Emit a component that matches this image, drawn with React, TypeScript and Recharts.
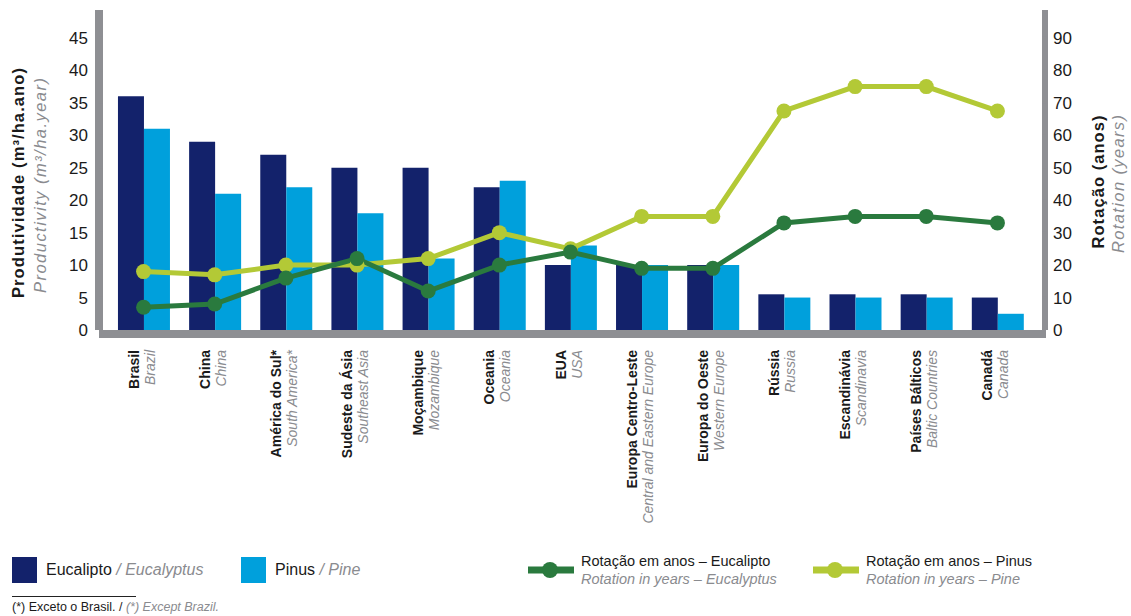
import React from 'react';
import { ComposedChart, Bar, Line, XAxis, YAxis } from 'recharts';

const categories = ['Brasil', 'China', 'América do Sul*', 'Sudeste da Ásia', 'Moçambique', 'Oceania', 'EUA', 'Europa Centro-Leste', 'Europa do Oeste', 'Rússia', 'Escandinávia', 'Países Bálticos', 'Canadá'];
const categoriesEn = ['Brazil', 'China', 'South America*', 'Southeast Asia', 'Mozambique', 'Oceania', 'USA', 'Central and Eastern Europe', 'Western Europe', 'Russia', 'Scandinavia', 'Baltic Countries', 'Canada'];

// produtividade (m³/ha.ano)
const eucaliptoProd = [36, 29, 27, 25, 25, 22, 10, 10, 10, 5.5, 5.5, 5.5, 5];
const pinusProd = [31, 21, 22, 18, 11, 23, 13, 10, 10, 5, 5, 5, 2.5];

// rotação (anos)
const eucaliptoRot = [7, 8, 16, 22, 12, 20, 24, 19, 19, 33, 35, 35, 33];
const pinusRot = [18, 17, 20, 20, 22, 30, 25, 35, 35, 67.5, 75, 75, 67.5];

const leftTicks = [0, 5, 10, 15, 20, 25, 30, 35, 40, 45];
const rightTicks = [0, 10, 20, 30, 40, 50, 60, 70, 80, 90];

const COLORS = {
  eucalipto: '#13226b',
  pinus: '#00a0dc',
  rotEucalipto: '#2a7a3e',
  rotPinus: '#b3c936',
  axis: '#8e8f93',
  text: '#1a1a1a',
  textEn: '#8a8b8f',
};

const data = categories.map((name, i) => ({
  name,
  nameEn: categoriesEn[i],
  eucalipto: eucaliptoProd[i],
  pinus: pinusProd[i],
  rotEucalipto: eucaliptoRot[i],
  rotPinus: pinusRot[i],
}));

const FONT = '"Liberation Sans", Arial, sans-serif';

const CategoryTick = (props: any) => {
  const { x, payload } = props;
  const row = data[payload.index];
  return (
    <g transform={`translate(${x},350)`}>
      <text transform="rotate(-90)" textAnchor="end" fontFamily={FONT} fontSize={14}>
        <tspan x={0} y={-5} fontWeight="bold" fill={COLORS.text}>{row.name}</tspan>
        <tspan x={0} y={11} fontStyle="italic" fill={COLORS.textEn}>{row.nameEn}</tspan>
      </text>
    </g>
  );
};

// titulos dos eixos (PT negrito / EN italico), num svg por cima do grafico
const AxisTitles = () => (
  <svg width={1131} height={616} style={{ position: 'absolute', left: 0, top: 0, pointerEvents: 'none' }}>
    <text transform="translate(24,183) rotate(-90)" textAnchor="middle" fontFamily={FONT} fontSize={16.5} fontWeight="bold" fill={COLORS.text} textLength={230} lengthAdjust="spacing">
      Produtividade (m³/ha.ano)
    </text>
    <text transform="translate(46,185.5) rotate(-90)" textAnchor="middle" fontFamily={FONT} fontSize={16.5} fontStyle="italic" fill={COLORS.textEn} textLength={215} lengthAdjust="spacing">
      Productivity (m³/ha.year)
    </text>
    <text transform="translate(1104,182) rotate(-90)" textAnchor="middle" fontFamily={FONT} fontSize={16.5} fontWeight="bold" fill={COLORS.text} textLength={133} lengthAdjust="spacing">
      Rotação (anos)
    </text>
    <text transform="translate(1124,184) rotate(-90)" textAnchor="middle" fontFamily={FONT} fontSize={16.5} fontStyle="italic" fill={COLORS.textEn} textLength={138} lengthAdjust="spacing">
      Rotation (years)
    </text>
  </svg>
);

const LegendSwatch = ({ color }: { color: string }) => (
  <span style={{ display: 'inline-block', width: 25, height: 26, background: color, marginRight: 9 }} />
);

const LineSwatch = ({ color }: { color: string }) => (
  <svg width={46} height={18} style={{ marginRight: 7, flexShrink: 0 }}>
    <line x1={0} y1={9} x2={46} y2={9} stroke={color} strokeWidth={7} />
    <circle cx={22} cy={9} r={8} fill={color} />
  </svg>
);

export default function App() {
  return (
    <div style={{ position: 'absolute', left: 0, top: 0, width: 1131, height: 616, background: '#fff', fontFamily: FONT }}>
      <ComposedChart
        width={1131}
        height={616}
        data={data}
        margin={{ top: 10, right: 0, bottom: 86, left: 0 }}
        barCategoryGap="14%"
        barGap={0}
      >
        <XAxis
          dataKey="name"
          height={200}
          interval={0}
          padding={{ left: 5, right: 9 }}
          tickLine={false}
          axisLine={{ stroke: COLORS.axis, strokeWidth: 8, strokeLinecap: 'square', transform: 'translate(0,4)' }}
          tick={<CategoryTick />}
        />
        <YAxis
          yAxisId="left"
          orientation="left"
          width={103}
          domain={[0, 49.3]}
          ticks={leftTicks}
          interval={0}
          tickSize={4}
          tickMargin={11}
          axisLine={{ stroke: COLORS.axis, strokeWidth: 8, transform: 'translate(-4,0)' }}
          tickLine={{ stroke: COLORS.axis, strokeWidth: 2 }}
          tick={{ fill: COLORS.text, fontSize: 17, fontFamily: FONT }}
        />
        <YAxis
          yAxisId="right"
          orientation="right"
          width={89}
          domain={[0, 98.6]}
          ticks={rightTicks}
          interval={0}
          tickSize={4}
          tickMargin={7}
          axisLine={{ stroke: COLORS.axis, strokeWidth: 6, transform: 'translate(3,0)' }}
          tickLine={{ stroke: COLORS.axis, strokeWidth: 2 }}
          tick={{ fill: COLORS.text, fontSize: 17, fontFamily: FONT }}
        />
        <Bar yAxisId="left" dataKey="eucalipto" fill={COLORS.eucalipto} isAnimationActive={false} />
        <Bar yAxisId="left" dataKey="pinus" fill={COLORS.pinus} isAnimationActive={false} />
        <Line
          yAxisId="right"
          dataKey="rotPinus"
          stroke={COLORS.rotPinus}
          strokeWidth={5}
          dot={{ r: 7.5, fill: COLORS.rotPinus, stroke: 'none' }}
          activeDot={false}
          isAnimationActive={false}
        />
        <Line
          yAxisId="right"
          dataKey="rotEucalipto"
          stroke={COLORS.rotEucalipto}
          strokeWidth={5}
          dot={{ r: 7.5, fill: COLORS.rotEucalipto, stroke: 'none' }}
          activeDot={false}
          isAnimationActive={false}
        />
      </ComposedChart>

      <AxisTitles />

      {/* legenda */}
      <div style={{ position: 'absolute', left: 12, top: 557, display: 'flex', alignItems: 'center', fontSize: 16 }}>
        <LegendSwatch color={COLORS.eucalipto} />
        <span style={{ color: COLORS.text }}>Eucalipto</span>
        <span style={{ color: COLORS.textEn, fontStyle: 'italic' }}>&nbsp;/ Eucalyptus</span>
      </div>
      <div style={{ position: 'absolute', left: 241, top: 557, display: 'flex', alignItems: 'center', fontSize: 16 }}>
        <LegendSwatch color={COLORS.pinus} />
        <span style={{ color: COLORS.text }}>Pinus</span>
        <span style={{ color: COLORS.textEn, fontStyle: 'italic' }}>&nbsp;/ Pine</span>
      </div>
      <div style={{ position: 'absolute', left: 528, top: 552, display: 'flex', alignItems: 'center', fontSize: 14.5, lineHeight: '18px' }}>
        <LineSwatch color={COLORS.rotEucalipto} />
        <div>
          <div style={{ color: COLORS.text }}>Rotação em anos – Eucalipto</div>
          <div style={{ color: COLORS.textEn, fontStyle: 'italic' }}>Rotation in years – Eucalyptus</div>
        </div>
      </div>
      <div style={{ position: 'absolute', left: 813, top: 552, display: 'flex', alignItems: 'center', fontSize: 14.5, lineHeight: '18px' }}>
        <LineSwatch color={COLORS.rotPinus} />
        <div>
          <div style={{ color: COLORS.text }}>Rotação em anos – Pinus</div>
          <div style={{ color: COLORS.textEn, fontStyle: 'italic' }}>Rotation in years – Pine</div>
        </div>
      </div>

      {/* nota */}
      <div style={{ position: 'absolute', left: 12, top: 596, width: 124, borderTop: '1px solid #222' }} />
      <div style={{ position: 'absolute', left: 12, top: 600, fontSize: 12.5, lineHeight: '15px', whiteSpace: 'nowrap' }}>
        <span style={{ color: COLORS.text }}>(*) Exceto o Brasil. / </span>
        <span style={{ color: COLORS.textEn, fontStyle: 'italic' }}>(*) Except Brazil.</span>
      </div>
    </div>
  );
}
